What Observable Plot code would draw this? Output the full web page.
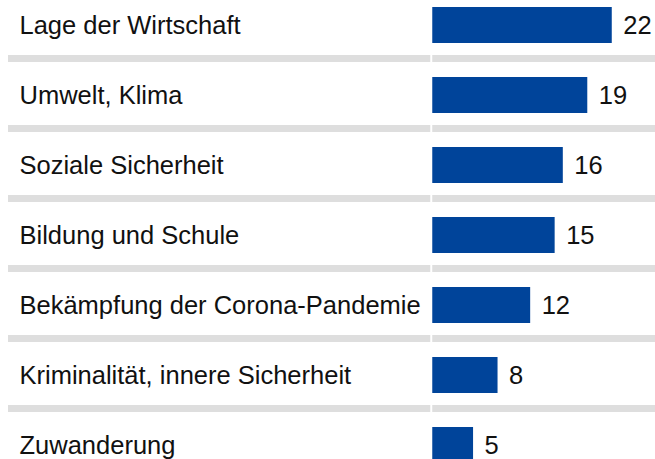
<!DOCTYPE html>
<html><head><meta charset="utf-8">
<script src="https://cdn.jsdelivr.net/npm/d3@7"></script>
<script src="https://cdn.jsdelivr.net/npm/@observablehq/plot@0.6"></script>
<style>html,body{margin:0;padding:0;background:#fff;}</style>
</head><body><div id="chart"></div>
<script>
const categories = [
  "Lage der Wirtschaft",
  "Umwelt, Klima",
  "Soziale Sicherheit",
  "Bildung und Schule",
  "Bekämpfung der Corona-Pandemie",
  "Kriminalität, innere Sicherheit",
  "Zuwanderung"
];
const values = [22, 19, 16, 15, 12, 8, 5];
const data = categories.map((c, i) => ({category: c, value: values[i]}));
const separators = categories.slice(0, -1);

const chart = Plot.plot({
  width: 655, height: 459,
  marginTop: 0, marginBottom: 0, marginRight: 0, marginLeft: 8,
  style: {fontFamily: "'Liberation Sans', Arial, sans-serif", fontSize: "25.5px", background: "#fff", color: "#111"},
  x: {domain: [-52, 27.3], axis: null},
  y: {domain: categories, range: [-10, 480], paddingInner: 0.486, paddingOuter: 0.243, axis: null},
  marks: [
    Plot.ruleY(separators, {y: d => d, x1: -52, x2: 0, insetRight: 2, stroke: "#dedede", strokeWidth: 7, dy: 33}),
    Plot.ruleY(separators, {y: d => d, x1: 0, x2: 27.3, stroke: "#dedede", strokeWidth: 7, dy: 33}),
    Plot.barX(data, {x: "value", y: "category", fill: "#00449a"}),
    Plot.text(data, {y: "category", text: "category", frameAnchor: "left", textAnchor: "start", dx: 11, fill: "#111"}),
    Plot.text(data, {x: "value", y: "category", text: d => String(d.value), textAnchor: "start", dx: 11, fill: "#111"})
  ]
});
document.getElementById("chart").appendChild(chart);
</script>
</body></html>
